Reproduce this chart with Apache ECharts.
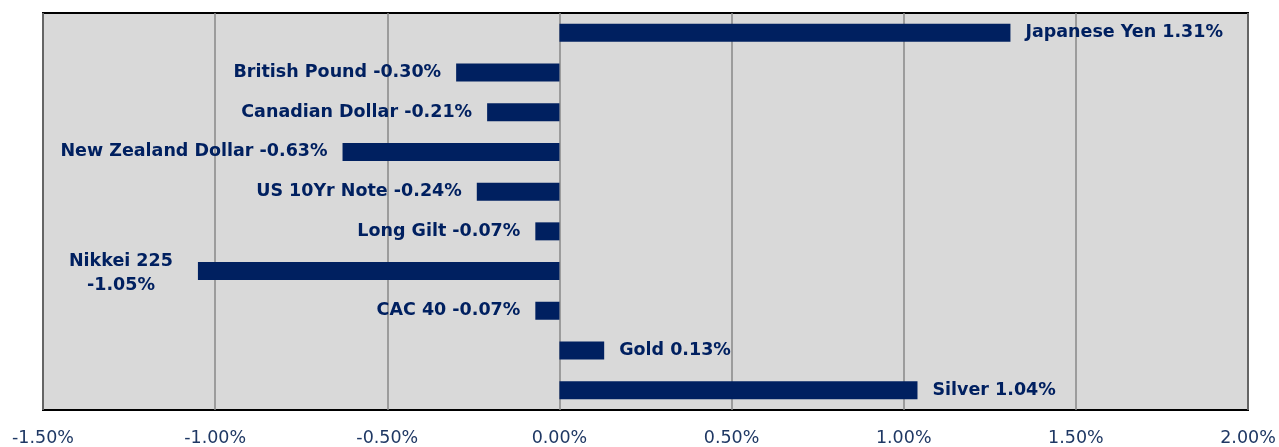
<!DOCTYPE html>
<html><head><meta charset="utf-8">
<script src="https://cdn.jsdelivr.net/npm/echarts@6/dist/echarts.min.js"></script>
<style>html,body{margin:0;padding:0;background:#fff}#c{width:1279px;height:447px}</style>
</head><body><div id="c"></div>
<script>
const categories = ["Japanese Yen","British Pound","Canadian Dollar","New Zealand Dollar","US 10Yr Note","Long Gilt","Nikkei 225","CAC 40","Gold","Silver"];
const values = [1.31,-0.30,-0.21,-0.63,-0.24,-0.07,-1.05,-0.07,0.13,1.04];
const tickMin = -1.5, tickMax = 2.0, tickStep = 0.5;

const navy = '#002060';
const data = values.map((v, i) => {
  const item = { value: v, label: { position: v >= 0 ? 'right' : 'left' } };
  if (categories[i] === 'Nikkei 225') {
    item.label = { position: 'left', align: 'center', distance: 77, offset: [0, 2],
      formatter: p => p.name + '\n' + p.value.toFixed(2) + '%', lineHeight: 24 };
  }
  return item;
});

const chart = echarts.init(document.getElementById('c'), null, { renderer: 'canvas' });
chart.setOption({
  animation: false,
  grid: { left: 43, right: 31, top: 13, bottom: 36, show: true, backgroundColor: '#d9d9d9', borderColor: '#000', borderWidth: 2 },
  xAxis: {
    type: 'value', min: tickMin, max: tickMax, interval: tickStep,
    axisLine: { show: false }, axisTick: { show: false },
    splitLine: { show: true, lineStyle: { color: '#878787', width: 1.5 } },
    axisLabel: { color: '#1f3864', fontFamily: 'DejaVu Sans', fontSize: 17.5, margin: 19,
      formatter: v => v.toFixed(2) + '%' }
  },
  yAxis: {
    type: 'category', data: categories, inverse: true,
    axisLine: { show: false }, axisTick: { show: false }, axisLabel: { show: false },
    splitLine: { show: false }
  },
  series: [{
    type: 'bar', data: data, barWidth: 18,
    itemStyle: { color: navy },
    label: { show: true, color: navy, fontFamily: 'DejaVu Sans', fontWeight: 'bold', fontSize: 17.5, distance: 15,
      formatter: p => p.name + ' ' + p.value.toFixed(2) + '%' }
  }]
});
</script></body></html>
